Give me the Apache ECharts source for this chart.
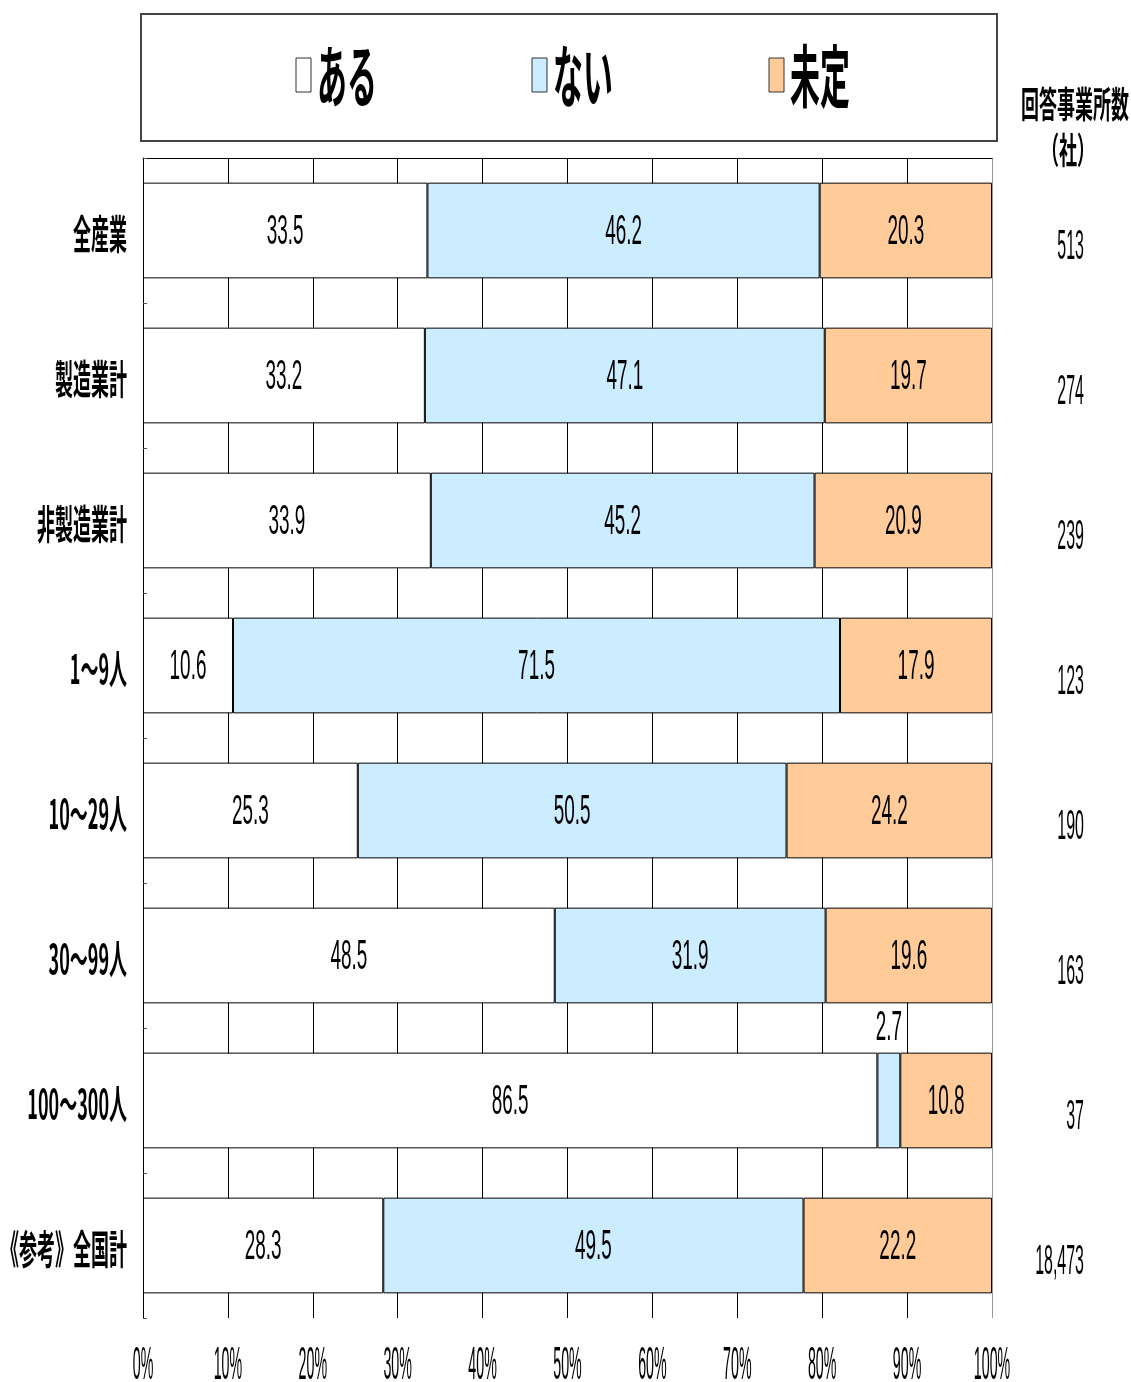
<!DOCTYPE html>
<html>
<head>
<meta charset="utf-8">
<script src="https://cdn.jsdelivr.net/npm/echarts@6/dist/echarts.min.js"></script>
<style>
  html, body { margin: 0; padding: 0; background: #fff; }
  #chart { width: 1131px; height: 1382px; }
</style>
</head>
<body>
<div id="chart"></div>
<script>
const categories = ['全産業', '製造業計', '非製造業計', '1～9人', '10～29人', '30～99人', '100～300人', '《参考》全国計']
const aru = [33.5, 33.2, 33.9, 10.6, 25.3, 48.5, 86.5, 28.3]
const nai = [46.2, 47.1, 45.2, 71.5, 50.5, 31.9, 2.7, 49.5]
const mitei = [20.3, 19.7, 20.9, 17.9, 24.2, 19.6, 10.8, 22.2]
const counts = ['513', '274', '239', '123', '190', '163', '37', '18,473']
const tickValues = [0, 10, 20, 30, 40, 50, 60, 70, 80, 90, 100]
const tickLabels = ['0%', '10%', '20%', '30%', '40%', '50%', '60%', '70%', '80%', '90%', '100%']

const seriesNames = ['ある', 'ない', '未定']
const COLORS = ['#ffffff', '#ccecff', '#ffcc99']

const JP = 'Noto Sans CJK JP'
const NUM = 'Liberation Sans, Noto Sans CJK JP'

// squeezed text, like the condensed font of the original
function narrowText(x, y, text, opt) {
  return {
    type: 'text',
    x, y,
    scaleX: opt.scaleX,
    style: {
      text,
      fontSize: opt.size,
      fontFamily: opt.family,
      fontWeight: opt.weight || 'normal',
      fill: '#000',
      align: opt.align || 'center',
      verticalAlign: 'middle',
    },
  }
}

// one label per segment: [start, value, catIndex]
const segLabels = []
categories.forEach((c, i) => {
  let start = 0
  ;[aru, nai, mitei].forEach(arr => {
    segLabels.push([start, arr[i], i])
    start += arr[i]
  })
})

const chart = echarts.init(document.getElementById('chart'), null, { renderer: 'canvas' })

const splitColors = tickValues.map(v => (v === 100 ? '#999' : '#000'))

chart.setOption({
  animation: false,
  grid: { left: 143, right: 139, top: 158, bottom: 64 },
  xAxis: [
    {
      type: 'value', min: 0, max: 100, interval: 10,
      axisLine: { show: false }, axisTick: { show: false }, axisLabel: { show: false },
      splitLine: { show: true, lineStyle: { color: splitColors, width: 1 } },
    },
    {
      type: 'value', min: 0, max: 100, interval: 10, position: 'top',
      axisLine: { show: true, lineStyle: { color: '#000', width: 1 } },
      axisTick: { show: false }, axisLabel: { show: false }, splitLine: { show: false },
    },
  ],
  yAxis: {
    type: 'category',
    data: categories,
    inverse: true,
    axisLine: { show: true, lineStyle: { color: '#000', width: 1 } },
    axisTick: { show: true, inside: true, length: 4, lineStyle: { color: '#555' } },
    axisLabel: { show: false },
    splitLine: { show: false },
  },
  graphic: [
    {
      type: 'rect',
      shape: { x: 141, y: 14, width: 856, height: 127 },
      style: { fill: '#fff', stroke: '#444', lineWidth: 2 },
    },
    ...seriesNames.map((name, k) => ({
      type: 'group',
      x: [296, 532, 769][k], y: 58,
      children: [
        { type: 'rect', shape: { x: 0, y: 0, width: 15, height: 34 },
          style: { fill: COLORS[k], stroke: '#333', lineWidth: 1 } },
        narrowText(21, 18, name, { size: 68, family: JP, scaleX: 0.44, align: 'left', weight: 'bold' }),
      ],
    })),
    narrowText(1075, 104, '回答事業所数', { size: 36, family: JP, scaleX: 0.5, weight: 'bold' }),
    narrowText(1068, 150, '（社）', { size: 36, family: JP, scaleX: 0.5, weight: 'bold' }),
  ],
  series: [
    ...seriesNames.map((name, k) => ({
      name,
      type: 'bar',
      stack: 'total',
      barWidth: '66%',
      data: [aru, nai, mitei][k],
      itemStyle: { color: COLORS[k], borderColor: '#000', borderWidth: 1 },
      z: 2,
    })),
    {
      // value labels inside the segments
      type: 'custom',
      z: 5,
      data: segLabels,
      renderItem(params, api) {
        const start = api.value(0), val = api.value(1), cat = api.value(2)
        const p = api.coord([start + val / 2, cat])
        const band = api.size([0, 1])[1]
        const y = val < 5 ? p[1] - band / 2 : p[1] + 2
        return narrowText(p[0], y, val.toFixed(1), { size: 42, family: NUM, scaleX: 0.45 })
      },
    },
    {
      // category names left of the plot
      type: 'custom',
      z: 5,
      data: categories.map((c, i) => [0, i]),
      renderItem(params, api) {
        const p = api.coord([0, api.value(1)])
        return narrowText(p[0] - 16, p[1] + 3, categories[params.dataIndex],
          { size: 40, family: JP, scaleX: 0.45, align: 'right', weight: 'bold' })
      },
    },
    {
      // respondent counts right of the plot
      type: 'custom',
      z: 5,
      data: categories.map((c, i) => [100, i]),
      renderItem(params, api) {
        const p = api.coord([100, api.value(1)])
        return narrowText(p[0] + 92, p[1] + 17, counts[params.dataIndex],
          { size: 42, family: NUM, scaleX: 0.38, align: 'right' })
      },
    },
    {
      // percent tick labels under the plot
      type: 'custom',
      z: 5,
      data: tickValues.map(v => [v, 0]),
      renderItem(params, api) {
        const p = api.coord([api.value(0), 0])
        const y = params.coordSys.y + params.coordSys.height + 48
        return narrowText(p[0], y, tickLabels[params.dataIndex],
          { size: 46, family: NUM, scaleX: 0.31 })
      },
    },
  ],
})
</script>
</body>
</html>
